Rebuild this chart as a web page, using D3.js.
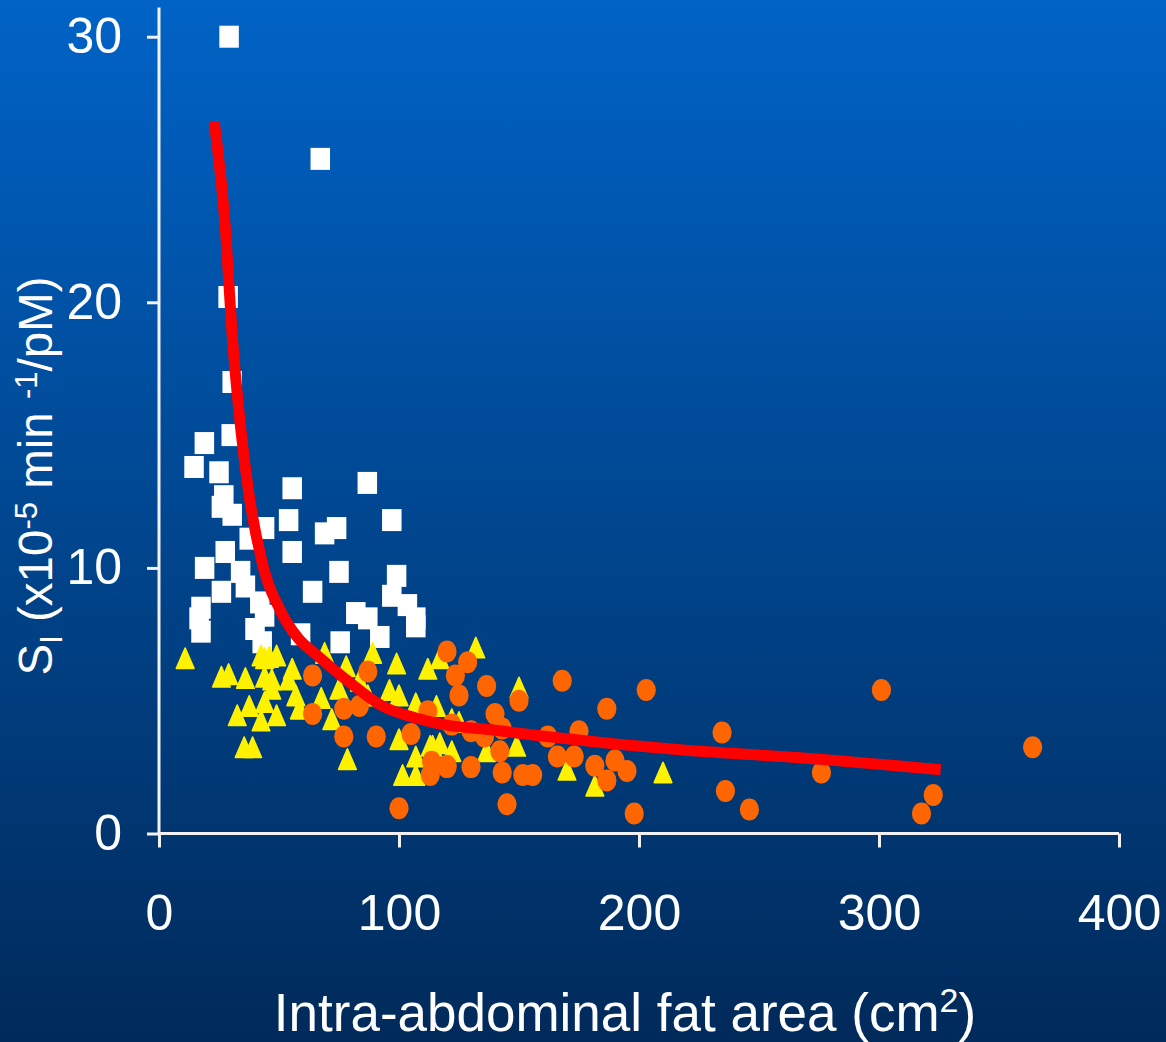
<!DOCTYPE html>
<html>
<head>
<meta charset="utf-8">
<script src="https://cdn.jsdelivr.net/npm/d3@7"></script>
<style>
  html, body { margin: 0; padding: 0; background: #003b7a; }
  svg { display: block; }
  text { font-family: "Liberation Sans", Arial, sans-serif; fill: #ffffff; }
</style>
</head>
<body>
<svg width="1166" height="1042"></svg>
<script>
// values: [fat area cm2, SI]
const lowFat = [
  [29.2,30.0],[67.2,25.4],[28.8,20.2],[30.5,17.0],[30.1,15.0],[18.9,14.7],[14.6,13.8],[25,13.6],
  [55.5,13.0],[86.8,13.2],[27,12.7],[26,12.3],[30.5,12.0],[54,11.8],[44,11.5],[37.6,11.1],
  [69,11.3],[74,11.5],[97,11.8],[55.5,10.6],[27.6,10.6],[19,10.0],[34,9.85],[75,9.85],
  [26,9.1],[36,9.3],[64,9.1],[99,9.7],[97,8.95],[42,8.7],[103.5,8.6],[107,8.1],[107,7.8],
  [82,8.3],[87,8.1],[17.5,8.5],[16.7,8.1],[17.5,7.6],[44,8.2],[40,7.7],[43,7.2],[92,7.4],
  [59,7.5],[75.5,7.2]
];
const midFat = [
  [10.9,6.6],[29,6.0],[26,5.9],[36,5.85],[44,6.6],[42.5,6.7],[46,6.65],[49,6.7],[55.5,6.2],
  [69,6.8],[89,6.8],[99,6.4],[112,6.2],[47,5.8],[44,5.9],[54,5.8],[47,5.45],[57,5.2],
  [37.6,4.8],[32.6,4.45],[44,4.95],[42.5,4.25],[49,4.45],[58.5,4.7],[67.6,5.1],[72,4.3],
  [78,6.3],[75,5.45],[83.5,5.75],[96,5.4],[100,5.2],[107,4.9],[115.6,4.8],[87,5.2],
  [35.5,3.25],[39,3.25],[78.5,2.8],[100,3.55],[107,2.9],[101.5,2.2],[107,2.2],[114,3.3],
  [117,3.4],[132,7.0],[117,6.6],[122,4.3],[125,4.2],[113,3.3],[122,3.1],[149,3.3],
  [150,5.5],[136.5,3.1],[170,2.4],[181.6,1.8],[210,2.3]
];
const highFat = [
  [64,5.95],[87,6.1],[64,4.5],[77,4.7],[83.5,4.8],[77,3.65],[90.5,3.65],[100,0.95],
  [105,3.75],[112,4.6],[113,2.2],[113.6,2.7],[120,6.85],[120,2.55],[128.6,6.45],[123.5,5.95],
  [125,5.2],[136.5,5.55],[150,5.0],[168,5.75],[203,5.4],[186.6,4.7],[140,4.5],[122,4.1],
  [130,3.85],[135.6,3.65],[143,3.95],[162,3.65],[175,3.85],[142,3.1],[130,2.5],[120,2.5],
  [143,2.3],[151.6,2.2],[155.7,2.2],[166,2.9],[173,2.9],[181.6,2.55],[186.6,2.0],[190,2.75],
  [195,2.35],[145,1.1],[198,0.75],[234.6,3.8],[236,1.6],[246,0.9],[276,2.3],[301,5.4],
  [322.6,1.45],[317.7,0.75],[364,3.25]
];
const fitCurve = [
  [23,26.8],[27.8,22.6],[30.3,19.0],[34.1,15.2],[37.6,12.7],[43,10.2],[50.8,8.35],
  [58,7.35],[66,6.7],[79.3,5.7],[93,4.8],[107,4.35],[121,4.06],[133.6,3.95],[161.5,3.65],
  [189,3.38],[217,3.15],[267,2.85],[325.7,2.4]
];
const xTicks = [0, 100, 200, 300, 400];
const yTicks = [0, 10, 20, 30];

const svg = d3.select("svg"),
    width = +svg.attr("width"),
    height = +svg.attr("height");

// background gradient
const grad = svg.append("defs").append("linearGradient")
    .attr("id", "bg").attr("x1", 0).attr("y1", 0).attr("x2", 0).attr("y2", 1);
grad.append("stop").attr("offset", "0%").attr("stop-color", "#0063c6");
grad.append("stop").attr("offset", "100%").attr("stop-color", "#002a5a");
svg.append("rect").attr("width", width).attr("height", height).attr("fill", "url(#bg)");

const x = d3.scaleLinear().domain([0, 400]).range([159, 1119]);
const y = d3.scaleLinear().domain([0, 30]).range([833.5, 36.7]);

// axes
const xAxis = svg.append("g")
    .attr("transform", `translate(0,${y(0)})`)
    .call(d3.axisBottom(x).tickValues(xTicks).tickSize(14).tickSizeOuter(0).tickPadding(47));
const yAxis = svg.append("g")
    .attr("transform", `translate(${x(0)},0)`)
    .call(d3.axisLeft(y).tickValues(yTicks).tickSize(12).tickSizeOuter(0).tickPadding(25));

[xAxis, yAxis].forEach(g => {
    g.select(".domain").remove();
    g.selectAll("line").attr("stroke", "#f2f2f2").attr("stroke-width", 3);
    g.selectAll("text").style("font-size", "50px").attr("fill", "#ffffff")
        .style("font-family", "'Liberation Sans', Arial, sans-serif");
});

svg.append("line")
    .attr("x1", x(0)).attr("x2", x(400)).attr("y1", y(0)).attr("y2", y(0))
    .attr("stroke", "#f2f2f2").attr("stroke-width", 3);
svg.append("line")
    .attr("x1", x(0)).attr("x2", x(0)).attr("y1", y(0) + 1.5).attr("y2", y(31.1))
    .attr("stroke", "#f2f2f2").attr("stroke-width", 3);

// markers
svg.append("g").selectAll("rect")
    .data(lowFat)
    .join("rect")
      .attr("x", d => x(d[0]) - 9.75)
      .attr("y", d => y(d[1]) - 11)
      .attr("width", 19.5)
      .attr("height", 22)
      .attr("fill", "#ffffff");

svg.append("g").selectAll("path")
    .data(midFat)
    .join("path")
      .attr("transform", d => `translate(${x(d[0])},${y(d[1])})`)
      .attr("d", "M0,-10.2L8.8,10.2L-8.8,10.2Z")
      .attr("fill", "#fff200")
      .attr("stroke", "#fff200")
      .attr("stroke-width", 1.6)
      .attr("stroke-linejoin", "round");

svg.append("g").selectAll("ellipse")
    .data(highFat)
    .join("ellipse")
      .attr("cx", d => x(d[0]))
      .attr("cy", d => y(d[1]))
      .attr("rx", 9.6)
      .attr("ry", 11)
      .attr("fill", "#ff6600");

// fitted curve
svg.append("path")
    .datum(fitCurve)
    .attr("fill", "none")
    .attr("stroke", "#ff0000")
    .attr("stroke-width", 11)
    .attr("d", d3.line().x(d => x(d[0])).y(d => y(d[1])).curve(d3.curveMonotoneX));

// axis titles
const xTitle = svg.append("text")
    .attr("x", 625).attr("y", 1031)
    .attr("text-anchor", "middle")
    .style("font-size", "53px");
xTitle.append("tspan").text("Intra-abdominal fat area (cm");
xTitle.append("tspan").attr("dy", -19).style("font-size", "34px").text("2");
xTitle.append("tspan").attr("dy", 19).text(")");

const yTitle = svg.append("text")
    .attr("transform", "translate(52,476) rotate(-90)")
    .attr("text-anchor", "middle")
    .style("font-size", "47.5px");
yTitle.append("tspan").text("S");
yTitle.append("tspan").attr("dy", 10).style("font-size", "31px").text("I");
yTitle.append("tspan").attr("dy", -10).text(" (x10");
yTitle.append("tspan").attr("dy", -15).style("font-size", "31px").text("-5");
yTitle.append("tspan").attr("dy", 15).text(" min ");
yTitle.append("tspan").attr("dy", -15).style("font-size", "31px").text("-1");
yTitle.append("tspan").attr("dy", 15).text("/pM)");
</script>
</body>
</html>
